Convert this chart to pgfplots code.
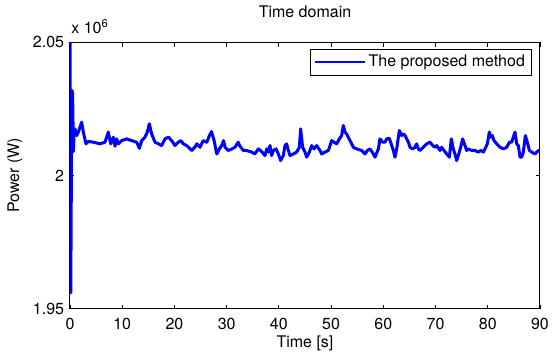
\documentclass[border=0pt]{standalone}
\usepackage{fontspec}
\setmainfont{TeX Gyre Heros}
\usepackage{pgfplots}
\pgfplotsset{compat=1.18}
\begin{document}
\begin{tikzpicture}[font=\fontsize{9.6}{11.5}\selectfont]
\begin{axis}[
  name=ax,
  scale only axis,
  width=282pt, height=160pt,
  xmin=0, xmax=90, ymin=1.95, ymax=2.05,
  xtick={0,10,...,90},
  ytick={1.95,2,2.05},
  yticklabels={1.95,2,2.05},
  /pgf/number format/assume math mode=true,
  tick align=inside,
  major tick length=2.6pt,
  tick style={black, line width=0.5pt},
  axis line style={black, line width=0.6pt},
  xticklabel style={anchor=base, yshift=-12.4pt},
  yticklabel style={anchor=east, xshift=0pt},
  xlabel={Time [s]},
  ylabel={Power (W)},
  xlabel style={at={(axis description cs:0.5,-0.144)}, anchor=base},
  ylabel style={at={(axis description cs:-0.117,0.5)}, anchor=center},
  title={Time domain},
  title style={at={(axis description cs:0.5,1)}, anchor=base, yshift=9pt},
  legend style={at={(rel axis cs:1,1)}, anchor=north east, xshift=-4.8pt, yshift=-4pt,
    draw=black, line width=0.5pt, inner xsep=2pt, inner ysep=1.5pt},
  legend cell align=left,
  legend image code/.code={\draw[#1, line width=1pt] (0pt,0pt) -- (30pt,0pt);},
]
\addplot[blue, line width=1.8pt, line join=round] coordinates {
(0,2.052) (0.15,1.956) (0.35,2.032) (0.5,2.031) (0.65,2.009) (0.8,2.0175)
(0.96,2.0175) (1.28,2.015) (1.6,2.0163) (2.23,2.0200) (2.55,2.0163) (3.06,2.0119)
(3.51,2.0128) (4.47,2.0125) (5.74,2.0119) (6.7,2.0125) (7.34,2.0163) (7.79,2.0119)
(8.3,2.0144) (8.62,2.0110) (8.94,2.01375) (9.26,2.0119) (9.9,2.0131) (10.85,2.01375)
(11.81,2.0131) (12.77,2.0125) (13.28,2.0102) (13.73,2.0131) (14.36,2.0144) (14.81,2.0163)
(15.19,2.0194) (15.64,2.0156) (16.28,2.0125) (16.92,2.0119) (17.55,2.01125) (18.19,2.01375)
(18.83,2.0144) (19.47,2.0131) (20.11,2.01125) (20.75,2.0125) (21.2,2.0131) (21.7,2.0119)
(22.34,2.01125) (23.3,2.0094) (23.9,2.0106) (24.3,2.0119) (24.9,2.0106) (25.5,2.0131)
(26.2,2.0125) (26.7,2.0150) (27.1,2.0165) (27.6,2.0131) (28.1,2.0081) (28.6,2.0100)
(29.05,2.01125) (29.4,2.0131) (29.7,2.0106) (30.3,2.0094) (31.0,2.0100) (31.6,2.0106)
(32.2,2.0125) (32.55,2.0110) (33.2,2.0094) (33.8,2.0094) (34.8,2.0088) (35.4,2.0081)
(36.07,2.0100) (36.7,2.0090) (37.34,2.0075) (37.66,2.0100) (37.98,2.0088) (38.3,2.01125)
(38.62,2.0075) (38.94,2.0094) (39.45,2.0100) (39.9,2.0081) (40.34,2.0056) (40.85,2.0075)
(41.17,2.01125) (41.49,2.0119) (41.81,2.0094) (42.13,2.0075) (42.77,2.0081) (43.4,2.0088)
(43.92,2.0106) (44.17,2.0175) (44.55,2.0106) (45.0,2.0088) (45.32,2.0069) (45.83,2.0088)
(46.28,2.01125) (46.72,2.0100) (47.24,2.01125) (47.87,2.0094) (48.19,2.0081) (48.83,2.0088)
(49.47,2.0094) (50.11,2.0131) (50.56,2.0125) (51.07,2.0119) (51.58,2.01375) (52.02,2.0150)
(52.34,2.01875) (52.66,2.0163) (52.98,2.0156) (53.62,2.0131) (54.26,2.0106) (54.89,2.0100)
(55.85,2.0094) (56.49,2.0081) (56.94,2.0094) (57.45,2.0100) (58.09,2.0081) (58.41,2.0069)
(59.05,2.0100) (59.36,2.01375) (59.88,2.0125) (60.32,2.0125) (60.64,2.01375) (61.15,2.0140)
(61.6,2.01125) (61.92,2.0094) (62.24,2.0069) (62.56,2.0100) (63.07,2.0169) (63.51,2.0150)
(63.83,2.0156) (64.15,2.0150) (64.79,2.0125) (65.11,2.0106) (65.62,2.0100) (66.07,2.0106)
(66.39,2.0119) (66.7,2.0100) (67.02,2.0094) (67.66,2.0106) (68.3,2.0119) (68.94,2.0125)
(69.45,2.01125) (69.9,2.0106) (70.22,2.01125) (70.86,2.0094) (71.17,2.0106) (71.62,2.0094)
(72.13,2.0081) (72.64,2.0069) (73.02,2.01375) (73.4,2.0100) (73.72,2.0081) (74.04,2.0056)
(74.36,2.0075) (74.81,2.0106) (75.19,2.01375) (75.64,2.01125) (75.96,2.0094) (76.28,2.0100)
(76.91,2.0094) (77.55,2.0094) (78.19,2.0088) (78.64,2.0094) (79.15,2.0088) (79.47,2.0100)
(79.92,2.0119) (80.3,2.0163) (80.56,2.0144) (80.88,2.0150) (81.2,2.0131) (81.71,2.0119)
(82.35,2.0106) (82.99,2.0100) (83.63,2.0106) (84.14,2.0125) (84.58,2.0125) (85.22,2.0163)
(85.54,2.0119) (85.86,2.01125) (86.18,2.0069) (86.5,2.0069) (86.81,2.0088) (87.2,2.0150)
(87.58,2.0125) (87.97,2.0094) (88.41,2.0088) (89.05,2.0081) (89.37,2.0088) (89.75,2.0094)
(90,2.0094)
};
\addlegendentry{The proposed method}
\end{axis}
\node[anchor=base west, inner sep=0pt, xshift=0.6pt, yshift=5pt] at (ax.north west) {x 10\textsuperscript{6}};
\path[use as bounding box] ([shift={(-42pt,-27.4pt)}]ax.south west) rectangle ([shift={(291pt,182pt)}]ax.south west);
\end{tikzpicture}
\end{document}
